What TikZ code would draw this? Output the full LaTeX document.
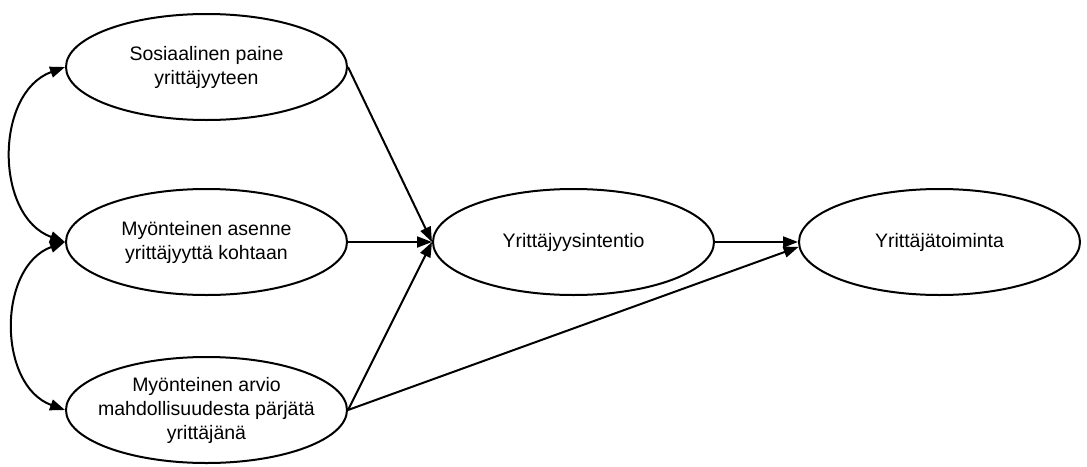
\documentclass[tikz,border=0pt]{standalone}
\usepackage{fontspec}
\setmainfont{Liberation Sans}
\usetikzlibrary{shapes.geometric, arrows.meta, positioning}
\tikzstyle{oval} = [ellipse, draw, line width=2pt, align=center, minimum width=281pt, minimum height=106pt, inner xsep=-18pt, inner ysep=0pt, font=\fontsize{19.5}{24}\selectfont]
\tikzstyle{path} = [line width=2pt, -{Triangle[length=15pt, width=11pt]}, black]
\tikzstyle{corr} = [line width=2pt, {Triangle[length=15pt, width=11pt]}-{Triangle[length=15pt, width=11pt]}, black, looseness=1.1]

\begin{document}
\begin{tikzpicture}[node distance=68pt and 86pt]
	\useasboundingbox (0,0) rectangle (1087pt,-466pt);

	% Predictors
	\node (paine) [oval] at (206.5pt,-67pt) {Sosiaalinen paine\\yrittäjyyteen};
	\node (asenne) [oval, below=67pt of paine] {Myönteinen asenne\\yrittäjyyttä kohtaan};
	\node (arvio) [oval, below=60pt of asenne] {Myönteinen arvio\\mahdollisuudesta pärjätä\\yrittäjänä};

	% Intention and behaviour
	\node (intentio) [oval, right=84pt of asenne] {Yrittäjyysintentio};
	\node (toiminta) [oval, right=83pt of intentio] {Yrittäjätoiminta};

	% Arrows - paths
	\draw[path] (paine.east) -- (intentio.west);
	\draw[path] (asenne.east) -- (intentio.west);
	\draw[path] (arvio.east) -- (intentio.west);
	\draw[path] (intentio.east) -- (toiminta.west);
	\draw[path] (arvio.east) -- (toiminta.182);

	% Correlations
	\draw[corr] (paine.west) to[out=200, in=160] (asenne.west);
	\draw[corr] (asenne.west) to[out=200, in=160] (arvio.west);

\end{tikzpicture}
\end{document}
